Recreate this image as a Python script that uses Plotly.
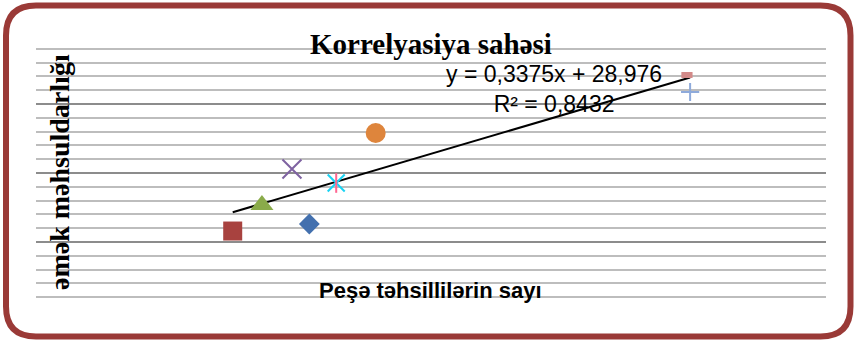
import plotly.graph_objects as go

# one point per marker style, in Excel's default series order
X_VALS = [34.6, 24.9, 28.6, 32.4, 38.0, 43.0, 82.8, 82.4]
Y_VALS = [35.68, 34.66, 38.43, 43.65, 41.62, 48.87, 54.81, 57.27]
SYMBOLS = ["diamond", "square", "triangle-up", "x-thin-open", "asterisk", "circle",
           "cross-thin-open", "line-ew-open"]
COLORS = ["#4370AE", "#A8423F", "#8AAB4A", "#7E62A1", "#4BACC6", "#DE853C",
          "#8EAADB", "#D38A89"]
SIZES = [16, 19, 20, 19, 17, 20, 13, 8]

SLOPE = 0.3375
INTERCEPT = 28.976
EQ_TEXT = "y = 0,3375x + 28,976<br>R² = 0,8432"

TITLE = "Korrelyasiya sahəsi"
X_TITLE = "Peşə təhsillilərin sayı"
Y_TITLE = "əmək məhsuldarlığı"

X_RANGE = [0, 100]
Y_RANGE = [23.07, 63.07]

W, H = 856, 341
L, R, T, B = 36, 30, 35, 30
PW, PH = W - L - R, H - T - B


def px(x):
    return (x - L) / PW


def py(y):
    return (H - B - y) / PH


fig = go.Figure()

# trendline over the whole x span of the points
x0, x1 = min(X_VALS), max(X_VALS)
fig.add_trace(go.Scatter(x=[x0, x1], y=[SLOPE * x0 + INTERCEPT, SLOPE * x1 + INTERCEPT],
                         mode="lines", line={"color": "black", "width": 2}, hoverinfo="skip"))

for x, y, sym, col, size in zip(X_VALS, Y_VALS, SYMBOLS, COLORS, SIZES):
    if sym == "asterisk":
        # Excel's asterisk: an X plus a vertical bar
        fig.add_trace(go.Scatter(x=[x], y=[y], mode="markers",
                                 marker={"symbol": "x-thin-open", "size": size, "line": {"color": col, "width": 2}}))
        fig.add_trace(go.Scatter(x=[x], y=[y], mode="markers",
                                 marker={"symbol": "line-ns-open", "size": 14, "line": {"color": col, "width": 2}}))
    elif sym.endswith("-open"):
        lw = 6 if sym == "line-ew-open" else 2
        fig.add_trace(go.Scatter(x=[x], y=[y], mode="markers",
                                 marker={"symbol": sym, "size": size, "color": col, "line": {"color": col, "width": lw}}))
    else:
        fig.add_trace(go.Scatter(x=[x], y=[y], mode="markers",
                                 marker={"symbol": sym, "size": size, "color": col, "line": {"width": 0}}))

# rounded frame round the whole chart
r = 30
x_l, x_r, y_t, y_b = 6, 850.5, 5.5, 336.5
path = (
    f"M {px(x_l + r)},{py(y_t)} L {px(x_r - r)},{py(y_t)} "
    f"Q {px(x_r)},{py(y_t)} {px(x_r)},{py(y_t + r)} "
    f"L {px(x_r)},{py(y_b - r)} Q {px(x_r)},{py(y_b)} {px(x_r - r)},{py(y_b)} "
    f"L {px(x_l + r)},{py(y_b)} Q {px(x_l)},{py(y_b)} {px(x_l)},{py(y_b - r)} "
    f"L {px(x_l)},{py(y_t + r)} Q {px(x_l)},{py(y_t)} {px(x_l + r)},{py(y_t)} Z"
)
fig.add_shape(type="path", xref="paper", yref="paper", path=path,
              line={"color": "#9A3A37", "width": 6}, layer="above")

fig.add_annotation(text=f"<b>{TITLE}</b>", xref="paper", yref="paper", x=px(431), y=py(44),
                   showarrow=False, font={"family": "Liberation Serif", "size": 29, "color": "black"},
                   xanchor="center", yanchor="middle")
fig.add_annotation(text=f"<b>{Y_TITLE}</b>", xref="paper", yref="paper", x=px(59), y=py(172),
                   textangle=-90, showarrow=False,
                   font={"family": "Liberation Serif", "size": 28, "color": "black"},
                   xanchor="center", yanchor="middle")
fig.add_annotation(text=f"<b>{X_TITLE}</b>", xref="paper", yref="paper", x=px(430), y=py(290),
                   showarrow=False, font={"family": "Liberation Sans", "size": 22, "color": "black"},
                   xanchor="center", yanchor="middle")
fig.add_annotation(text=EQ_TEXT, xref="paper", yref="paper", x=px(554), y=py(89),
                   showarrow=False, align="center",
                   font={"family": "Liberation Sans", "size": 23, "color": "black"},
                   xanchor="center", yanchor="middle")

fig.update_layout(
    width=W, height=H,
    margin={"l": L, "r": R, "t": T, "b": B},
    paper_bgcolor="white", plot_bgcolor="white",
    showlegend=False,
)
fig.update_xaxes(range=X_RANGE, showgrid=False, zeroline=False, showticklabels=False,
                 showline=False, ticks="")
fig.update_yaxes(range=Y_RANGE, tick0=Y_RANGE[0], dtick=10, showgrid=True, gridcolor="#8C8C8C",
                 gridwidth=2, zeroline=False, showticklabels=False, showline=False, ticks="",
                 minor={"tick0": Y_RANGE[0], "dtick": 2, "showgrid": True, "gridcolor": "#BDBDBD",
                        "gridwidth": 2})

# page body has an 8px margin by default; drop it so the chart fills the window
fig.write_html("out.html", config={"displayModeBar": False},
               post_script="document.body.style.margin='0';")
